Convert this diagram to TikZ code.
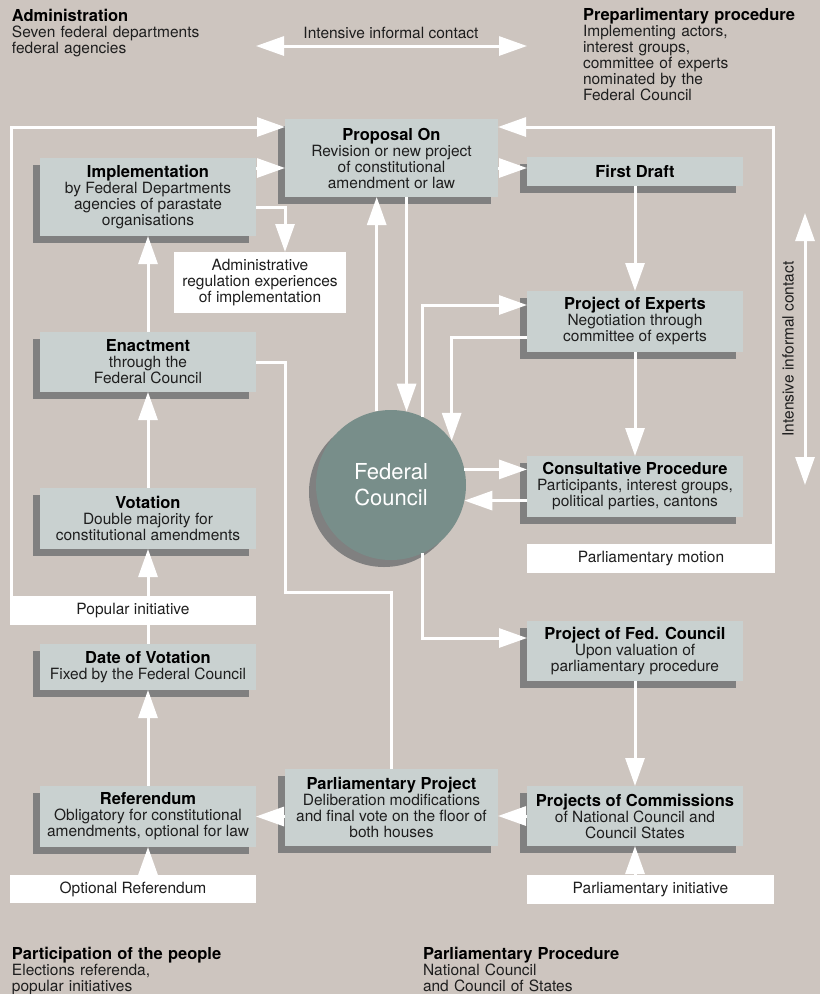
\documentclass[tikz,border=0pt]{standalone}
\usepackage{fontspec}
\setmainfont{TeX Gyre Heros}
\usetikzlibrary{arrows.meta,shadows}
\definecolor{bgc}{RGB}{205,197,191}
\definecolor{boxc}{RGB}{201,209,208}
\definecolor{shc}{RGB}{128,128,128}
\definecolor{circc}{RGB}{120,142,138}
\definecolor{txtc}{RGB}{30,30,30}
\newcommand{\hd}[1]{{\fontsize{16.5}{16}\selectfont\bfseries\color{black}#1}}
\begin{document}
\begin{tikzpicture}[x=1pt,y=-1pt,
  every node/.style={font=\fontsize{15.5}{16}\selectfont, text=txtc, inner sep=0pt, outer sep=0pt},
  procbox/.style={fill=boxc, align=center, general shadow={fill=shc, shadow xshift=-7pt, shadow yshift=-7pt}},
  whitebox/.style={fill=white, align=center},
  heading/.style={anchor=base west, align=left, text width=260pt},
  wline/.style={draw=white, line width=3pt},
  arr/.style={wline, -{Triangle[length=28pt,width=19pt]}},
  arrboth/.style={wline, {Triangle[length=28pt,width=19pt]}-{Triangle[length=28pt,width=19pt]}},
]
\fill[bgc] (0,0) rectangle (820,994);
\useasboundingbox (0,0) rectangle (820,994);

% headings
\node[heading] (admin) at (12,21) {\hd{Administration}\\Seven federal departments\\federal agencies};
\node[heading] (prep) at (583,20) {\hd{Preparlimentary procedure}\\Implementing actors,\\interest groups,\\committee of experts\\nominated by the\\Federal Council};
\node[heading] (people) at (12,959) {\hd{Participation of the people}\\Elections referenda,\\popular initiatives};
\node[heading] (parlproc) at (423,959) {\hd{Parliamentary Procedure}\\National Council\\and Council of States};

% process boxes
\node[procbox, minimum width=213pt, minimum height=78pt] (prop) at (391.5,158) {\hd{Proposal On}\\Revision or new project\\of constitutional\\amendment or law};
\node[procbox, minimum width=216pt, minimum height=29pt] (draft) at (635,171.5) {\hd{First Draft}};
\node[procbox, minimum width=216pt, minimum height=78pt] (impl) at (148,197) {\hd{Implementation}\\by Federal Departments\\agencies of parastate\\organisations};
\node[whitebox, minimum width=172pt, minimum height=61pt] (admreg) at (260,282.5) {Administrative\\regulation experiences\\of implementation};
\node[procbox, minimum width=216pt, minimum height=60pt] (enact) at (148,362) {\hd{Enactment}\\through the\\Federal Council};
\node[procbox, minimum width=216pt, minimum height=61pt] (experts) at (635,321.5) {\hd{Project of Experts}\\Negotiation through\\committee of experts};
\node[procbox, minimum width=216pt, minimum height=61pt] (consult) at (635,486.5) {\hd{Consultative Procedure}\\Participants, interest groups,\\political parties, cantons};
\node[whitebox, minimum width=248pt, minimum height=29pt] (pmotion) at (651,558.5) {Parliamentary motion};
\node[procbox, minimum width=216pt, minimum height=61pt] (vot) at (148,518.5) {\hd{Votation}\\Double majority for\\constitutional amendments};
\node[procbox, minimum width=216pt, minimum height=60pt] (fedproj) at (635,651) {\hd{Project of Fed. Council}\\Upon valuation of\\parliamentary procedure};
\node[procbox, minimum width=216pt, minimum height=46pt] (datevot) at (148,667) {\hd{Date of Votation}\\Fixed by the Federal Council};
\node[procbox, minimum width=213pt, minimum height=77pt] (parlproj) at (391.5,807.5) {\hd{Parliamentary Project}\\Deliberation modifications\\and final vote on the floor of\\both houses};
\node[procbox, minimum width=216pt, minimum height=61pt] (ref) at (148,816.5) {\hd{Referendum}\\Obligatory for constitutional\\amendments, optional for law};
\node[procbox, minimum width=216pt, minimum height=60pt] (comm) at (635,816) {\hd{Projects of Commissions}\\of National Council and\\Council States};
\node[whitebox, minimum width=246pt, minimum height=28pt] (optref) at (133,889) {Optional Referendum};
\node[whitebox, minimum width=247pt, minimum height=29pt] (pinit) at (650.5,889.5) {Parliamentary initiative};

% federal council
\node[circle, fill=circc, minimum size=150pt, text=white, align=center,
      font=\fontsize{22}{26}\selectfont,
      general shadow={fill=shc, shadow xshift=-7pt, shadow yshift=-7pt}] (fc) at (391,485) {Federal\\Council};

% informal contact arrows
\node (iclab) at (391,33) {Intensive informal contact};
\coordinate (ica) at (256,46);
\coordinate (icb) at (527,46);
\draw[arrboth] (ica) -- (icb);
\node[rotate=90] (ivlab) at (788,349) {Intensive informal contact};
\coordinate (iva) at (805,213);
\coordinate (ivb) at (805,485);
\draw[arrboth] (iva) -- (ivb);

% connectors
\draw[arr] (datevot.north) -- (vot.south);
\node[whitebox, minimum width=246pt, minimum height=29pt] (popinit) at (133,610.5) {Popular initiative};

\coordinate (pl) at ([yshift=-8pt]prop.north west);
\coordinate (pr) at ([yshift=-8pt]prop.north east);
\draw[arr] ([xshift=1.5pt]popinit.north west) |- (pl);
\draw[arr] ([xshift=-1.5pt]pmotion.north east) |- (pr);
\coordinate (ip) at ([yshift=-10pt]impl.north east);
\draw[arr] (ip) -- (ip -| prop.west);
\coordinate (pd) at ([yshift=-11pt]draft.north west);
\draw[arr] (pd -| prop.east) -- (pd);
\draw[arr] ([yshift=-10pt]impl.east) -| ([xshift=25pt]admreg.north);
\draw[arr] (enact.north) -- (impl.south);
\draw[arr] (vot.north) -- (enact.south);
\draw[arr] (ref.north) -- (datevot.south);
\draw[arr] (ref.south |- optref.north) -- (ref.south);
\draw[arr] (ref.east -| parlproj.west) -- (ref.east);
\draw[arr] (comm.west) -- (comm.west -| parlproj.east);
\draw[arr] (comm.south |- pinit.north) -- (comm.south);
\draw[arr] (fedproj.south) -- (comm.north);
\draw[arr] (draft.south) -- (experts.north);
\draw[arr] (experts.south) -- (consult.north);
\draw[arr] (fc.65) |- ([yshift=-14pt]experts.north west);
\draw[arr] ([yshift=-15.5pt]experts.west) -| (fc.36);
\draw[arr] (fc.-65) |- ([yshift=-17pt]fedproj.north west);
\draw[arr] (fc.78 |- prop.south) -- (fc.78);
\draw[arr] (fc.101) -- (fc.101 |- prop.south);
\draw[arr] (fc.12) -- (fc.12 -| consult.west);
\draw[arr] (consult.west |- fc.-12) -- (fc.-12);
\coordinate (k1) at (285,592);
\draw[wline] (parlproj.north) |- (k1) |- (enact.east);
\end{tikzpicture}
\end{document}
